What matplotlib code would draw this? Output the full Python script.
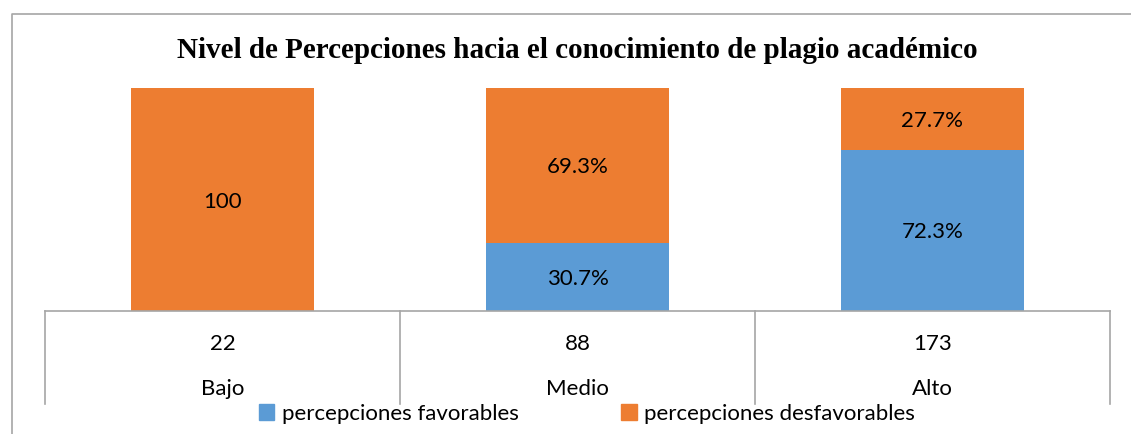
import matplotlib
matplotlib.use("Agg")
import matplotlib.pyplot as plt
from matplotlib.lines import Line2D
from matplotlib.patches import Patch
import numpy as np

categories = ["Bajo", "Medio", "Alto"]
counts = ["22", "88", "173"]
favorables = [0.0, 30.7, 72.3]
desfavorables = [100.0, 69.3, 27.7]
fav_labels = ["", "30.7%", "72.3%"]
desfav_labels = ["100", "69.3%", "27.7%"]
series_names = ["percepciones favorables", "percepciones desfavorables"]
title = "Nivel de Percepciones hacia el conocimiento de plagio académico"

BLUE = "#5B9BD5"
ORANGE = "#ED7D31"
GRID = "#A6A6A6"
W, H = 1131, 434
sans = ["Lato", "DejaVu Sans"]
FS = 16

fig = plt.figure(figsize=(W / 100, H / 100), dpi=100)

def fx(px):
    return px / W

def fy(py):
    return 1 - py / H

# outer chart border (partially cropped)
fig.add_artist(Line2D([fx(11.5), fx(11.5), fx(W)], [fy(H), fy(13.5), fy(13.5)],
                      transform=fig.transFigure, color=GRID, lw=1.2))

left, right, top, bottom = 45, 1110, 88, 311
ax = fig.add_axes([fx(left), fy(bottom), fx(right - left), (bottom - top) / H])

x = np.arange(len(categories))
bw = 0.513
ax.bar(x, favorables, bw, color=BLUE, label=series_names[0])
ax.bar(x, desfavorables, bw, bottom=favorables, color=ORANGE, label=series_names[1])

for i in range(len(categories)):
    if fav_labels[i]:
        ax.annotate(fav_labels[i], (x[i], favorables[i] / 2), xytext=(0, -1.5),
                    textcoords="offset points", ha="center", va="center",
                    fontsize=FS, family=sans, color="black")
    ax.annotate(desfav_labels[i], (x[i], favorables[i] + desfavorables[i] / 2),
                xytext=(0, -1.5), textcoords="offset points", ha="center",
                va="center", fontsize=FS, family=sans, color="black")

ax.set_xlim(-0.5, len(categories) - 0.5)
ax.set_ylim(0, 100)
ax.set_xticks([])
ax.set_yticks([])
for s in ["top", "left", "right"]:
    ax.spines[s].set_visible(False)
ax.spines["bottom"].set_color(GRID)
ax.spines["bottom"].set_linewidth(1.2)

trans = ax.get_xaxis_transform()
ph = bottom - top
sep_bottom = -(404 - bottom) / ph
for xs in np.arange(-0.5, len(categories), 1.0):
    ax.plot([xs, xs], [0, sep_bottom], transform=trans, color=GRID, lw=1.2, clip_on=False)

for i in range(len(categories)):
    ax.text(x[i], -(344 - bottom) / ph, counts[i], transform=trans, ha="center",
            va="center", fontsize=FS, family=sans)
    ax.text(x[i], -(389 - bottom) / ph, categories[i], transform=trans, ha="center",
            va="center", fontsize=FS, family=sans)

fig.text(fx(577), fy(50), title, ha="center", va="center", fontsize=21,
         fontweight="bold", family=["Liberation Serif", "DejaVu Serif"])

handles = [Patch(color=BLUE), Patch(color=ORANGE)]
fig.legend(handles, series_names, loc="center", bbox_to_anchor=(fx(587), fy(414)),
           ncol=2, frameon=False, prop={"family": sans, "size": FS},
           handlelength=0.7, handleheight=0.7, handletextpad=0.35, columnspacing=4.6,
           borderpad=0, borderaxespad=0)

fig.savefig("out.png", dpi=100)
